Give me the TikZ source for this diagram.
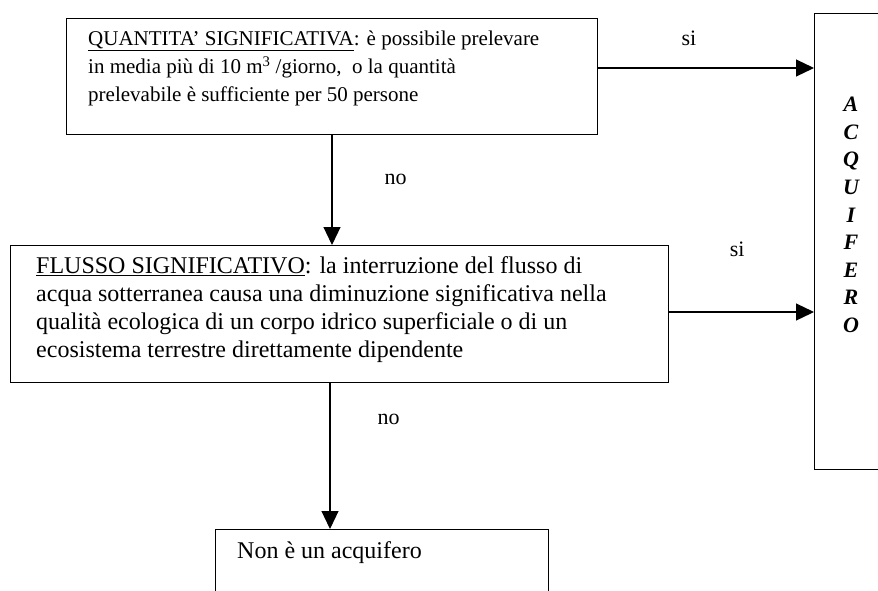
\documentclass[tikz,border=0pt]{standalone}
\usepackage{fontspec}
\setmainfont{Liberation Serif}
\usetikzlibrary{arrows.meta, positioning}

\begin{document}
\begin{tikzpicture}[x=1pt,y=-1pt,
    box/.style={draw,line width=1.2pt,inner sep=0pt,anchor=north west},
    txt/.style={inner sep=0pt,anchor=north west,align=left},
    arr/.style={-{Triangle[length=18pt,width=17pt]},line width=1.2pt},
    lbl/.style={inner sep=0pt,font=\fontsize{22}{26}\selectfont}]
            \useasboundingbox (0,0) rectangle (878,590);
            \fill[white] (0,0) rectangle (878,590);
            \node[box,minimum width=531pt,minimum height=116pt] (quant) at (66,18) {}; %上の箱
            \node[box,minimum width=658pt,minimum height=137pt] (flusso) at (10,245) {}; %中の箱
            \node[box,minimum width=100pt,minimum height=456pt] (acq) at (814,13) {}; %右の箱
            \node[box,minimum width=333pt,minimum height=100pt] (nonacq) at (215,529) {}; %下の箱
            \node[txt,font=\fontsize{21}{28}\selectfont] (quanttxt) at (88,31)
                {\underline{QUANTITA’ SIGNIFICATIVA}: è possibile prelevare\\
                 in media più di 10 m\textsuperscript{3} /giorno,\ \ o la quantità\\
                 prelevabile è sufficiente per 50 persone};
            \node[txt,font=\fontsize{24}{28}\selectfont] (flussotxt) at (36,256)
                {\underline{FLUSSO SIGNIFICATIVO}: la interruzione del flusso di\\
                 acqua sotterranea causa una diminuzione significativa nella\\
                 qualità ecologica di un corpo idrico superficiale o di un\\
                 ecosistema terrestre direttamente dipendente};
            \node[txt,font=\fontsize{24}{28}\selectfont] (nontxt) at (237,541) {Non è un acquifero};
            \node[inner sep=0pt,anchor=north,align=center,
                  font=\fontsize{22}{27.6}\selectfont\bfseries\itshape] (acqtxt) at (851,97)
                {A\\C\\Q\\U\\I\\F\\E\\R\\O}; %縦書き
            \coordinate (y1) at (0,68);
            \coordinate (y2) at (0,312);
            \coordinate (x1) at (332,0);
            \coordinate (x2) at (330,0);
            \draw[arr] (quant.east |- y1) -- (acq.west |- y1) node[lbl,pos=0.42,above=22pt] (si1) {si}; %si
            \draw[arr] (flusso.east |- y2) -- (acq.west |- y2) node[lbl,pos=0.47,above=55pt] (si2) {si}; %si
            \draw[arr] (quant.south -| x1) -- (flusso.north -| x1) node[lbl,pos=0.4,right=52pt] (no1) {no}; %no
            \draw[arr] (flusso.south -| x2) -- (nonacq.north -| x2) node[lbl,pos=0.25,right=47pt] (no2) {no}; %no
        \end{tikzpicture}
\end{document}
